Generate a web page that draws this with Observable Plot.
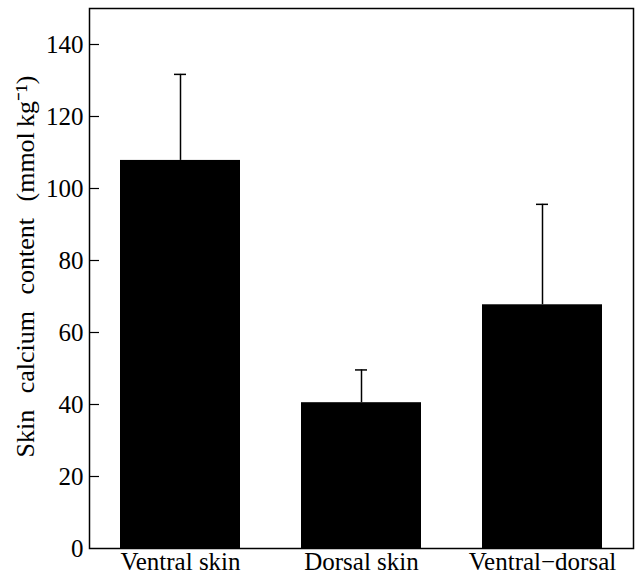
<!DOCTYPE html>
<html>
<head>
<meta charset="utf-8">
<script src="https://cdn.jsdelivr.net/npm/d3@7"></script>
<script src="https://cdn.jsdelivr.net/npm/@observablehq/plot@0.6"></script>
<style>
  html, body { margin: 0; padding: 0; background: #fff; }
  #chart svg { display: block; }
  #chart svg text { font-size: 25px; }
  #chart svg g.ylabel text { font-size: 26px; word-spacing: 10px; }
</style>
</head>
<body>
<div id="chart"></div>
<script>
const categories = ["Ventral skin", "Dorsal skin", "Ventral\u2212dorsal"];
const means = [107.8, 40.5, 67.7];
const errorTops = [131.7, 49.6, 95.6];
const yTicks = [0, 20, 40, 60, 80, 100, 120, 140];

const data = categories.map((c, i) => ({cat: c, mean: means[i], top: errorTops[i]}));

const font = "'Liberation Serif', 'Times New Roman', serif";

const chart = Plot.plot({
  width: 636,
  height: 578,
  marginLeft: 89,
  marginRight: 3,
  marginTop: 8,
  marginBottom: 30,
  style: {fontFamily: font, fontSize: "25px", color: "#000", background: "#fff"},
  x: {domain: categories, paddingInner: 0.338, paddingOuter: 0.171, label: null},
  y: {domain: [0, 150], label: null},
  marks: [
    Plot.barY(data, {x: "cat", y: "mean", fill: "#000"}),
    Plot.ruleX(data, {x: "cat", y1: "mean", y2: "top", stroke: "#000", strokeWidth: 1.5}),
    Plot.tickY(data, {x: "cat", y: "top", stroke: "#000", strokeWidth: 1.5, insetLeft: 54, insetRight: 54}),
    Plot.frame({stroke: "#000", strokeWidth: 1.5}),
    Plot.axisY({ticks: yTicks, tickSize: 0, tickPadding: 6, label: null, fontSize: 25}),
    Plot.tickY(yTicks.filter(d => d > 0), {y: d => d, x: null, stroke: "#000", strokeWidth: 1.2, insetRight: 544 - 10}),
    Plot.axisX({tickSize: 0, tickPadding: 4, label: null, fontSize: 25}),
    Plot.text(["Skin calcium content (mmol\u2009kg\u207B\u00B9)"], {
      frameAnchor: "left", textAnchor: "middle", dx: -64, dy: -12, rotate: -90, fontSize: 26, fill: "#000",
      className: "ylabel"
    })
  ]
});
document.getElementById("chart").appendChild(chart);
</script>
</body>
</html>
